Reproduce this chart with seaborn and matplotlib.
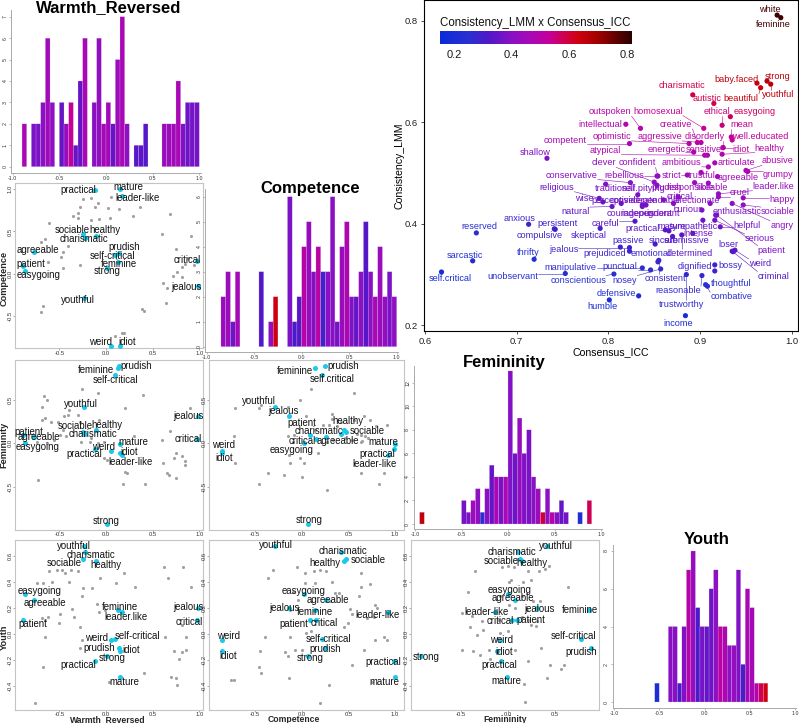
import numpy as np
import pandas as pd
import matplotlib
matplotlib.use("Agg")
import matplotlib.pyplot as plt
import seaborn as sns
from matplotlib.colors import LinearSegmentedColormap, Normalize
from matplotlib.cm import ScalarMappable

# ---------------- DATA ----------------
HL_NAMES = ['practical', 'mature', 'leader-like', 'sociable', 'healthy', 'charismatic', 'agreeable',
            'patient', 'easygoing', 'prudish', 'self-critical', 'feminine', 'strong', 'critical',
            'jealous', 'youthful', 'weird', 'idiot']
HL_WARMTH = [-0.12, 0.155, 0.17, -0.25, -0.105, -0.225, -0.775, -0.885, -0.87, 0.14, 0.10, 0.125,
             0.015, 0.98, 0.985, -0.235, 0.055, 0.15]
HL_COMPETENCE = [0.99, 1.0, 0.92, 0.47, 0.45, 0.42, 0.26, 0.09, 0.03, 0.25, 0.22, 0.14, 0.07, 0.15,
                 -0.14, -0.29, -0.85, -0.85]
HL_FEMININITY = [-0.07, -0.01, -0.13, 0.13, 0.155, 0.11, 0.075, 0.10, 0.0, 0.88, 0.78, 0.86, -0.92,
                 0.05, 0.31, 0.42, -0.085, -0.11]
HL_YOUTH = [-0.21, -0.33, 0.165, 0.57, 0.555, 0.63, 0.26, 0.11, 0.305, -0.11, -0.04, 0.18, -0.17,
            0.11, 0.20, 0.67, -0.045, -0.13]

GRAY_WC = [(-0.164, 0.900), (0.054, 0.911), (-0.25, 0.880), (-0.089, 0.833), (-0.279, 0.794), (-0.118, 0.785),
           (0.018, 0.773), (0.139, 0.766), (0.364, 0.794), (-0.357, 0.687), (-0.304, 0.715), (-0.296, 0.664),
           (-0.164, 0.636), (-0.075, 0.647), (0.043, 0.655), (0.293, 0.687), (0.686, 0.702), (-0.607, 0.596),
           (-0.654, 0.407), (-0.696, 0.380), (-0.411, 0.333), (-0.457, 0.254), (-0.486, 0.203), (-0.625, 0.135),
           (-0.279, 0.104), (-0.457, 0.064), (0.907, 0.446), (0.604, 0.470), (0.746, 0.293), (0.882, 0.183),
           (0.946, 0.104), (0.846, 0.111), (0.811, 0.077), (0.757, 0.025), (0.721, -0.022), (0.818, -0.034),
           (0.614, -0.113), (0.657, -0.172), (0.639, -0.341), (-0.671, -0.377), (-0.7, -0.448), (0.389, -0.420),
           (0.411, -0.436), (0.096, -0.736), (0.168, -0.704), (0.193, -0.704)]
GRAY_WF = [(-0.26, 0.62), (-0.09, 0.58), (0.40, 0.55), (-0.66, 0.54), (-0.63, 0.50), (-0.69, 0.42), (0.20, 0.41),
           (0.90, 0.41), (-0.40, 0.38), (-0.45, 0.31), (-0.41, 0.32), (-0.30, 0.32), (-0.69, 0.27), (-0.65, 0.29),
           (-0.59, 0.25), (-0.51, 0.25), (-0.08, 0.27), (-0.28, 0.25), (-0.46, 0.15), (-0.49, 0.10), (-0.43, 0.08),
           (-0.16, 0.06), (-0.56, 0.04), (-0.74, 0.02), (-0.63, 0.0), (-0.27, 0.01), (-0.17, 0.01), (-0.09, 0.0),
           (-0.02, 0.02), (0.30, 0.08), (0.60, 0.04), (0.69, 0.14), (0.75, -0.11), (0.81, -0.15), (0.85, -0.20),
           (0.73, -0.17), (0.61, -0.22), (0.20, -0.33), (0.22, -0.34), (0.65, -0.34), (0.68, -0.36), (0.75, -0.40),
           (0.85, -0.25), (-0.73, -0.42), (0.18, -0.46), (0.42, -0.47), (-0.02, -0.17), (0.01, -0.19)]
GRAY_CF = [(0.10, 0.62), (0.56, 0.58), (-0.02, 0.50), (-0.71, 0.41), (-0.46, 0.41), (-0.44, 0.44), (-0.15, 0.42),
           (0.05, 0.31), (0.32, 0.34), (0.56, 0.27), (0.67, 0.31), (0.73, 0.27), (0.80, 0.20), (0.91, 0.21),
           (0.32, 0.28), (0.42, 0.25), (0.38, 0.20), (-0.73, 0.08), (-0.15, 0.08), (-0.08, 0.10), (0.14, 0.15),
           (0.23, 0.21), (0.29, 0.21), (0.59, 0.11), (0.64, 0.10), (0.68, 0.08), (0.71, 0.06), (0.65, 0.03),
           (0.63, 0.01), (0.54, 0.04), (0.46, 0.06), (0.34, 0.04), (0.27, 0.02), (-0.09, 0.01), (-0.14, -0.13),
           (-0.13, -0.23), (-0.02, -0.17), (0.03, -0.23), (0.18, -0.11), (-0.71, -0.23), (-0.36, -0.34),
           (-0.19, -0.36), (0.0, -0.39), (-0.46, -0.46), (0.27, -0.53), (0.64, -0.34), (0.88, -0.34), (0.83, -0.46)]
GRAY_WY = [(-0.61, 0.48), (-0.53, 0.49), (-0.47, 0.49), (-0.44, 0.47), (-0.38, 0.49), (-0.30, 0.48), (-0.06, 0.43),
           (0.19, 0.47), (0.62, 0.51), (0.83, 0.51), (0.66, 0.43), (-0.74, 0.39), (-0.68, 0.39), (-0.58, 0.40),
           (-0.40, 0.40), (0.11, 0.39), (0.31, 0.36), (0.91, 0.36), (-0.25, 0.35), (-0.15, 0.35), (-0.26, 0.29),
           (-0.10, 0.23), (-0.07, 0.17), (-0.36, 0.19), (-0.49, 0.15), (-0.62, 0.13), (-0.69, 0.12), (-0.65, 0.11),
           (-0.01, 0.18), (-0.34, 0.13), (-0.28, 0.05), (-0.50, 0.08), (-0.65, -0.02), (-0.26, -0.05), (-0.28, -0.11),
           (0.81, 0.07), (0.63, -0.02), (0.86, -0.02), (0.73, -0.13), (0.81, -0.14), (0.86, -0.12), (0.78, -0.19),
           (0.41, -0.30), (0.70, -0.33), (0.75, -0.34), (0.76, -0.39), (0.03, -0.37), (-0.68, -0.25), (-0.76, -0.53)]
GRAY_CY = [(-0.31, 0.49), (-0.36, 0.43), (-0.05, 0.51), (0.04, 0.47), (0.13, 0.48), (0.20, 0.49), (0.26, 0.48),
           (0.64, 0.47), (0.04, 0.39), (0.14, 0.39), (0.32, 0.40), (0.36, 0.31), (0.40, 0.31), (0.63, 0.36),
           (0.61, 0.29), (0.73, 0.38), (-0.09, 0.32), (-0.04, 0.26), (0.30, 0.25), (0.52, 0.19), (0.54, 0.15),
           (0.79, 0.22), (0.81, 0.20), (0.70, 0.12), (0.50, 0.08), (0.45, 0.05), (0.77, 0.13), (-0.13, 0.18),
           (0.05, 0.01), (0.10, 0.02), (-0.39, -0.02), (-0.13, -0.02), (-0.07, -0.12), (0.0, -0.12), (-0.45, -0.13),
           (-0.18, -0.14), (-0.15, -0.17), (-0.46, -0.25), (-0.44, -0.30), (-0.14, -0.34), (-0.72, -0.35),
           (-0.76, -0.35), (0.29, -0.39), (0.67, -0.12), (0.54, -0.24), (0.79, -0.05), (0.88, -0.02), (0.91, -0.05),
           (0.75, -0.37), (0.20, -0.53)]
GRAY_FY = [(-0.35, 0.48), (-0.06, 0.51), (0.0, 0.52), (0.07, 0.51), (0.22, 0.48), (0.33, 0.48), (0.40, 0.50),
           (0.44, 0.52), (0.01, 0.40), (0.04, 0.41), (0.16, 0.40), (0.25, 0.41), (-0.42, 0.32), (-0.08, 0.29),
           (0.15, 0.29), (0.27, 0.25), (0.34, 0.25), (0.64, 0.36), (0.01, 0.22), (0.08, 0.20), (0.21, 0.18),
           (-0.48, 0.16), (-0.38, 0.14), (-0.27, 0.10), (-0.09, 0.11), (0.15, 0.13), (0.22, 0.11), (0.25, 0.07),
           (0.30, 0.06), (0.31, 0.10), (-0.26, 0.03), (-0.40, 0.05), (-0.33, -0.01), (-0.08, 0.01), (0.0, 0.02),
           (-0.48, -0.12), (-0.37, -0.13), (-0.20, -0.12), (0.08, -0.12), (0.35, -0.11), (0.22, -0.21),
           (-0.19, -0.19), (-0.29, -0.16), (0.45, -0.24), (0.60, -0.24), (0.57, -0.27), (0.42, -0.34),
           (0.17, -0.38), (0.18, -0.52)]

# histogram bins (left edge), counts and colour value (mean Consistency x Consensus)
WARMTH_BINS = [-0.9, -0.8, -0.75, -0.7, -0.65, -0.6, -0.5, -0.45, -0.4, -0.35, -0.3, -0.25, -0.15, -0.1, -0.05,
               0.0, 0.05, 0.1, 0.15, 0.2, 0.3, 0.35, 0.4, 0.6, 0.65, 0.7, 0.75, 0.8, 0.85, 0.9, 0.95]
WARMTH_COUNTS = [2, 2, 2, 3, 6, 3, 3, 2, 3, 1, 4, 6, 3, 6, 2, 3, 2, 5, 7, 2, 1, 1, 2, 2, 2, 2, 4, 2, 3, 3, 3]
WARMTH_CVAL = [0.47, 0.38, 0.38, 0.40, 0.45, 0.41, 0.35, 0.43, 0.53, 0.35, 0.35, 0.47, 0.40, 0.42, 0.46,
               0.45, 0.35, 0.44, 0.47, 0.41, 0.33, 0.34, 0.33, 0.43, 0.44, 0.45, 0.47, 0.39, 0.36, 0.37, 0.37]
COMP_BINS = [-0.85, -0.8, -0.75, -0.7, -0.45, -0.35, -0.3, -0.15, -0.1, -0.05, 0.0, 0.05, 0.1, 0.15, 0.2, 0.25,
             0.3, 0.35, 0.4, 0.45, 0.5, 0.55, 0.6, 0.65, 0.7, 0.75, 0.8, 0.85, 0.9, 0.95]
COMP_COUNTS = [2, 3, 1, 3, 3, 1, 2, 6, 1, 2, 4, 5, 3, 4, 3, 3, 6, 1, 4, 5, 2, 2, 3, 5, 3, 2, 4, 2, 3, 2]
COMP_CVAL = [0.43, 0.44, 0.36, 0.46, 0.32, 0.41, 0.63, 0.38, 0.31, 0.33, 0.50, 0.43, 0.39, 0.51, 0.29, 0.40,
             0.40, 0.37, 0.43, 0.48, 0.39, 0.35, 0.41, 0.33, 0.40, 0.47, 0.44, 0.42, 0.38, 0.41]
FEM_BINS = [-0.95, -0.5, -0.45, -0.4, -0.35, -0.3, -0.25, -0.2, -0.15, -0.1, -0.05, 0.0, 0.05, 0.1, 0.15, 0.2,
            0.25, 0.3, 0.35, 0.4, 0.45, 0.5, 0.55, 0.6, 0.75, 0.85]
FEM_COUNTS = [1, 2, 1, 2, 3, 1, 3, 5, 4, 4, 4, 13, 6, 9, 6, 8, 4, 3, 1, 3, 1, 1, 2, 1, 1, 2]
FEM_CVAL = [0.65, 0.37, 0.38, 0.45, 0.41, 0.26, 0.40, 0.35, 0.47, 0.37, 0.47, 0.39, 0.36, 0.43, 0.39, 0.38,
            0.40, 0.44, 0.60, 0.41, 0.50, 0.40, 0.35, 0.37, 0.22, 0.58]
YOUTH_BINS = [-0.55, -0.4, -0.35, -0.3, -0.25, -0.2, -0.15, -0.1, -0.05, 0.0, 0.05, 0.1, 0.15, 0.2, 0.25, 0.3,
              0.35, 0.4, 0.45, 0.5, 0.55, 0.6, 0.65]
YOUTH_COUNTS = [1, 4, 4, 1, 4, 7, 8, 5, 4, 4, 6, 7, 4, 4, 3, 3, 7, 2, 6, 5, 1, 1, 1]
YOUTH_CVAL = [0.21, 0.40, 0.40, 0.31, 0.39, 0.50, 0.43, 0.31, 0.37, 0.35, 0.36, 0.41, 0.51, 0.48, 0.41, 0.42,
              0.39, 0.30, 0.47, 0.46, 0.49, 0.58, 0.63]

# big scatter: Consensus_ICC vs Consistency_LMM
BIG_TRAITS = ['white', 'feminine', 'charismatic', 'autistic', 'beautiful', 'baby.faced', 'strong', 'youthful',
              'easygoing', 'ethical', 'homosexual', 'mean', 'creative', 'outspoken', 'intellectual', 'competent',
              'optimistic', 'aggressive', 'disorderly', 'well.educated', 'shallow', 'atypical', 'energetic',
              'sensitive', 'idiot', 'healthy', 'clever', 'confident', 'ambitious', 'articulate', 'abusive',
              'grumpy', 'strict', 'trustful', 'agreeable', 'conservative', 'rebellious', 'religious',
              'traditional', 'self.pitying', 'prudish', 'responsible', 'likeable', 'leader.like', 'cruel',
              'happy', 'wise', 'perceptive', 'considerate', 'dependable', 'affectionate', 'natural',
              'courageous', 'independent', 'ignorant', 'critical', 'curious', 'enthusiastic', 'sociable',
              'helpful', 'angry', 'serious', 'patient', 'loser', 'weird', 'criminal', 'anxious', 'reserved',
              'persistent', 'compulsive', 'careful', 'practical', 'mature', 'sympathetic', 'intense',
              'skeptical', 'passive', 'jealous', 'prejudiced', 'sincere', 'submissive', 'emotional',
              'determined', 'sarcastic', 'thrifty', 'self.critical', 'unobservant', 'manipulative', 'punctual',
              'conscientious', 'nosey', 'consistent', 'dignified', 'bossy', 'reasonable', 'thoughtful',
              'combative', 'defensive', 'humble', 'trustworthy', 'income']
BIG_ICC = [0.984, 0.988, 0.892, 0.915, 0.966, 0.962, 0.973, 0.977, 0.933, 0.924, 0.904, 0.934, 0.897, 0.835,
           0.819, 0.823, 0.888, 0.901, 0.925, 0.935, 0.733, 0.905, 0.893, 0.908, 0.925, 0.924, 0.850, 0.854,
           0.909, 0.916, 0.950, 0.952, 0.886, 0.901, 0.919, 0.824, 0.853, 0.790, 0.797, 0.832, 0.853, 0.894,
           0.909, 0.920, 0.920, 0.947, 0.794, 0.814, 0.837, 0.860, 0.911, 0.804, 0.837, 0.841, 0.871, 0.876,
           0.902, 0.917, 0.947, 0.922, 0.935, 0.916, 0.918, 0.936, 0.938, 0.935, 0.713, 0.656, 0.741, 0.742,
           0.829, 0.862, 0.866, 0.892, 0.903, 0.791, 0.813, 0.823, 0.823, 0.851, 0.870, 0.854, 0.880, 0.652,
           0.719, 0.618, 0.753, 0.837, 0.846, 0.806, 0.857, 0.855, 0.916, 0.916, 0.902, 0.908, 0.906, 0.833,
           0.801, 0.885, 0.884]
BIG_LMM = [0.811, 0.806, 0.654, 0.637, 0.668, 0.677, 0.681, 0.675, 0.611, 0.594, 0.588, 0.571, 0.560, 0.588,
           0.596, 0.558, 0.558, 0.560, 0.550, 0.565, 0.529, 0.535, 0.541, 0.535, 0.550, 0.537, 0.482, 0.494,
           0.512, 0.520, 0.505, 0.503, 0.496, 0.501, 0.493, 0.481, 0.494, 0.450, 0.478, 0.457, 0.476, 0.481,
           0.480, 0.459, 0.453, 0.451, 0.443, 0.440, 0.437, 0.447, 0.440, 0.434, 0.434, 0.437, 0.440, 0.453,
           0.427, 0.417, 0.437, 0.394, 0.440, 0.407, 0.417, 0.345, 0.348, 0.346, 0.399, 0.382, 0.390, 0.389,
           0.405, 0.388, 0.386, 0.381, 0.407, 0.391, 0.354, 0.353, 0.346, 0.360, 0.375, 0.325, 0.378, 0.327,
           0.330, 0.305, 0.302, 0.313, 0.309, 0.301, 0.311, 0.328, 0.319, 0.307, 0.298, 0.277, 0.280, 0.258,
           0.250, 0.300, 0.219]

# ---------------- LAYOUT (label placement) ----------------
BIG_LABEL_XY = [(0.976, 0.823), (0.980, 0.792), (0.880, 0.672), (0.908, 0.647), (0.945, 0.647), (0.940, 0.685),
                (0.985, 0.691), (0.985, 0.654), (0.959, 0.622), (0.918, 0.621), (0.854, 0.622), (0.946, 0.596),
                (0.874, 0.596), (0.802, 0.621), (0.791, 0.596), (0.753, 0.565), (0.804, 0.572), (0.856, 0.572),
                (0.905, 0.572), (0.965, 0.572), (0.720, 0.540), (0.797, 0.545), (0.863, 0.547), (0.904, 0.547),
                (0.945, 0.547), (0.976, 0.549), (0.795, 0.520), (0.831, 0.520), (0.880, 0.521), (0.940, 0.521),
                (0.985, 0.524), (0.985, 0.498), (0.869, 0.496), (0.902, 0.496), (0.941, 0.491), (0.760, 0.496),
                (0.817, 0.496), (0.744, 0.472), (0.807, 0.470), (0.838, 0.470), (0.864, 0.472), (0.889, 0.472),
                (0.913, 0.472), (0.980, 0.474), (0.943, 0.461), (0.989, 0.448), (0.774, 0.450), (0.805, 0.445),
                (0.827, 0.445), (0.853, 0.445), (0.896, 0.445), (0.764, 0.424), (0.824, 0.420), (0.842, 0.420),
                (0.860, 0.420), (0.878, 0.453), (0.887, 0.428), (0.940, 0.424), (0.985, 0.424), (0.951, 0.397),
                (0.989, 0.397), (0.965, 0.371), (0.978, 0.348), (0.931, 0.360), (0.965, 0.322), (0.980, 0.297),
                (0.703, 0.411), (0.659, 0.394), (0.744, 0.401), (0.725, 0.376), (0.797, 0.401), (0.837, 0.391),
                (0.869, 0.394), (0.893, 0.394), (0.898, 0.381), (0.778, 0.376), (0.821, 0.367), (0.751, 0.350),
                (0.796, 0.342), (0.860, 0.368), (0.885, 0.368), (0.846, 0.342), (0.889, 0.342), (0.644, 0.338),
                (0.713, 0.343), (0.627, 0.292), (0.696, 0.297), (0.759, 0.314), (0.813, 0.315), (0.767, 0.289),
                (0.818, 0.289), (0.862, 0.292), (0.894, 0.315), (0.933, 0.317), (0.876, 0.268), (0.934, 0.282),
                (0.934, 0.256), (0.809, 0.263), (0.794, 0.238), (0.880, 0.240), (0.876, 0.204)]

OFFSETS = {
    ('W', 'C'): {'practical': (-16.7, 0), 'mature': (7.7, 1.7), 'leader-like': (15.7, -1.7), 'sociable': (-10, 3.7),
                 'healthy': (8.3, 5.3), 'charismatic': (-1, -0.7), 'agreeable': (4.3, 1.7), 'patient': (7.3, 1.7),
                 'easygoing': (13.3, -4), 'prudish': (5, 5.7), 'self-critical': (-3.3, -0.7), 'feminine': (1, -1.7),
                 'strong': (0, -3.3), 'critical': (-9.7, 1), 'jealous': (-11.7, -1), 'youthful': (-5.7, -1.7),
                 'weird': (-11, 4), 'idiot': (7.3, 4)},
    ('W', 'F'): {'feminine': (-21.3, -1.7), 'prudish': (16.7, 0.3), 'self-critical': (0, -4.3), 'youthful': (-2.7, 2.7),
                 'jealous': (-9, 0), 'healthy': (10.3, 4.3), 'sociable': (-7.7, 6), 'charismatic': (7.7, -0.3),
                 'patient': (5.7, 3), 'agreeable': (5, 0), 'easygoing': (13, -4), 'critical': (-9, 0),
                 'mature': (12.7, 2), 'weird': (-7.7, 3.3), 'practical': (-10.3, -5), 'idiot': (9, 0.7),
                 'leader-like': (8.3, -7.3), 'strong': (-1.3, 2.7)},
    ('W', 'Y'): {'youthful': (-9.7, 0.7), 'charismatic': (6, -3), 'sociable': (-18.7, -4), 'healthy': (10, -4),
                 'easygoing': (15, 3.3), 'agreeable': (11.7, -3.3), 'patient': (9, -4.3), 'feminine': (2, 3.3),
                 'leader-like': (4, -5), 'jealous': (-9, 1), 'critical': (-8.3, -2.7), 'weird': (-14.3, 2),
                 'self-critical': (21.7, 2.7), 'prudish': (-20, 0), 'idiot': (11.7, 0.7), 'strong': (5, -1.7),
                 'practical': (-16, -4), 'mature': (4, -4.7)},
    ('C', 'F'): {'feminine': (-20, -2.3), 'prudish': (18, 0.3), 'self-critical': (10, -3.3), 'youthful': (-15.7, 6),
                 'jealous': (-5, 5), 'patient': (-8.3, 11.7), 'healthy': (4.3, 9), 'charismatic': (-22.3, 2.3),
                 'sociable': (21.3, 0.7), 'critical': (-13.3, -2), 'agreeable': (11.7, -4.3),
                 'easygoing': (-13.3, -6.7), 'weird': (0.7, 6), 'idiot': (1.7, -5.3), 'mature': (-12, 2.7),
                 'practical': (-17.3, -4.7), 'leader-like': (-12.7, -9.7), 'strong': (0.7, 3.3)},
    ('C', 'Y'): {'youthful': (1.7, 1), 'charismatic': (2.3, 1), 'healthy': (-18.3, -2), 'sociable': (22.7, -0.7),
                 'easygoing': (-1, 3), 'agreeable': (1.7, -0.3), 'jealous': (-4.3, -0.3), 'feminine': (0, -1.7),
                 'patient': (-16.7, -4), 'critical': (9, -3.3), 'leader-like': (-10.3, -2.7), 'weird': (6, 3.7),
                 'self-critical': (6, 0), 'idiot': (6, -5), 'prudish': (0, -1), 'strong': (1.7, -2.3),
                 'practical': (-11, -1), 'mature': (-10.7, -4.7)},
    ('F', 'Y'): {'youthful': (9, 0.7), 'charismatic': (-5.7, 0), 'sociable': (-18.3, -1.7), 'healthy': (10, -2),
                 'easygoing': (2.3, 4.3), 'agreeable': (-1.7, 1.7), 'leader-like': (-9.3, 0.7), 'jealous': (2.7, -0.7),
                 'feminine': (-9, 0), 'critical': (-11.7, -1.3), 'patient': (13.7, -0.7), 'weird': (1.7, 0),
                 'self-critical': (-7.7, 3.3), 'idiot': (6.7, -1), 'prudish': (-9.3, -3.3), 'strong': (5, -1.3),
                 'practical': (-2, -4), 'mature': (0, -4)},
}
RENAME = {('W', 'Y'): {'leader-like': 'leader.like'}, ('C', 'F'): {'self-critical': 'self.critical'}}

# ---------------- STYLE ----------------
sns.set_theme(style="white")
plt.rcParams["font.family"] = ["Liberation Sans", "DejaVu Sans"]

W, H = 799, 723
fig = plt.figure(figsize=(W / 100, H / 100), dpi=100)

CMAP = LinearSegmentedColormap.from_list(
    "icc", [(0.0, "#0a2ad8"), (0.148, "#2a30d0"), (0.253, "#5018c8"), (0.373, "#8a10c4"),
            (0.478, "#aa08b4"), (0.568, "#c4009a"), (0.643, "#d00050"), (0.718, "#d00010"),
            (0.823, "#a00000"), (1.0, "#2a0000")])
NORM = Normalize(0.151, 0.818)


def rect_px(l, t, r, b):
    return fig.add_axes([l / W, 1 - b / H, (r - l) / W, (b - t) / H])


def axes_from_map(xv, xp, yv, yp, xlim, ylim):
    sx = (xp[1] - xp[0]) / (xv[1] - xv[0])
    sy = (yp[1] - yp[0]) / (yv[1] - yv[0])
    l = xp[0] + (xlim[0] - xv[0]) * sx
    r = xp[0] + (xlim[1] - xv[0]) * sx
    b = yp[0] + (ylim[0] - yv[0]) * sy
    t = yp[0] + (ylim[1] - yv[0]) * sy
    ax = rect_px(l, t, r, b)
    ax.set_xlim(xlim)
    ax.set_ylim(ylim)
    return ax


def ftext(x, y, s, **kw):
    return fig.text(x / W, 1 - y / H, s, **kw)


VARS = {'W': HL_WARMTH, 'C': HL_COMPETENCE, 'F': HL_FEMININITY, 'Y': HL_YOUTH}
XCOL = {'W': (15, 203.3, (-0.975, 1.043), [-0.5, 0.0, 0.5, 1.0]),
        'C': (209, 404, (-0.993, 1.096), [-0.5, 0.0, 0.5, 1.0]),
        'F': (411, 599, (-1.025, 0.968), [-0.5, 0.0, 0.5])}
YROW = {'C': (183.3, 348.3, (-0.881, 1.069), [-0.5, 0.0, 0.5, 1.0]),
        'F': (360, 530, (-0.992, 0.954), [-0.5, 0.0, 0.5]),
        'Y': (540, 710, (-0.582, 0.719), [-0.4, -0.2, 0.0, 0.2, 0.4, 0.6])}
GRAYS = {('W', 'C'): GRAY_WC, ('W', 'F'): GRAY_WF, ('C', 'F'): GRAY_CF,
         ('W', 'Y'): GRAY_WY, ('C', 'Y'): GRAY_CY, ('F', 'Y'): GRAY_FY}


def pair_panel(xk, yk):
    l, r, xlim, xt = XCOL[xk]
    t, b, ylim, yt = YROW[yk]
    ax = rect_px(l, t, r, b)
    g = pd.DataFrame(GRAYS[(xk, yk)], columns=["x", "y"])
    sns.scatterplot(data=g, x="x", y="y", ax=ax, color="#a0a0a0", s=5, linewidth=0, legend=False, zorder=2)
    hl = pd.DataFrame({"x": VARS[xk], "y": VARS[yk]})
    sns.scatterplot(data=hl, x="x", y="y", ax=ax, color="#19c8ea", s=13, linewidth=0, legend=False, zorder=3)
    offs = OFFSETS[(xk, yk)]
    ren = RENAME.get((xk, yk), {})
    for name, x, y in zip(HL_NAMES, VARS[xk], VARS[yk]):
        dx, dy = offs[name]
        ax.annotate(ren.get(name, name), (x, y), xytext=(dx, dy), textcoords="offset pixels",
                    ha="center", va="center", fontsize=6.9, color="#111111", zorder=4)
    ax.set_xlim(xlim)
    ax.set_ylim(ylim)
    ax.set_xticks(xt)
    ax.set_yticks(yt)
    ax.set_xticklabels([f"{v:.1f}" for v in xt])
    ax.set_yticklabels([f"{v:.1f}" for v in yt])
    ax.tick_params(axis="both", labelsize=4.2, length=1.2, width=0.4, colors="#666666",
                   labelcolor="#333333", pad=0.6, bottom=True, left=True)
    plt.setp(ax.get_yticklabels(), rotation=90, va="center")
    for s in ax.spines.values():
        s.set_visible(True)
        s.set_color("#c4c4c4")
        s.set_linewidth(0.8)
    ax.set_xlabel("")
    ax.set_ylabel("")
    return ax


for xk, yk in [('W', 'C'), ('W', 'F'), ('C', 'F'), ('W', 'Y'), ('C', 'Y'), ('F', 'Y')]:
    pair_panel(xk, yk)


def diag_hist(xp, yp, ymax_val, ylim, yticks, bins, counts, cvals):
    ax = axes_from_map((-1.0, 1.0), xp, (0.0, ymax_val), yp, (-1.015, 1.015), ylim)
    edges = [round(-1.0 + 0.05 * i, 3) for i in range(41)]
    vals = np.repeat(np.array(bins) + 0.025, counts)
    sns.histplot(x=vals, bins=edges, ax=ax, stat="count", alpha=1,
                 edgecolor="#e2d4f6", linewidth=0.15)
    lut = {round(bv, 2): cv for bv, cv in zip(bins, cvals)}
    for p in ax.patches:
        key = round(p.get_x(), 2)
        if p.get_height() > 0 and key in lut:
            p.set_facecolor(CMAP(NORM(lut[key])))
            p.set_snap(False)
        else:
            p.set_visible(False)
    ax.set_xlim(-1.015, 1.015)
    ax.set_ylim(ylim)
    ax.set_xticks([-1.0, -0.5, 0.0, 0.5, 1.0])
    ax.set_xticklabels(["-1.0", "-0.5", "0.0", "0.5", "1.0"])
    ax.set_yticks(yticks)
    ax.set_yticklabels([str(v) for v in yticks])
    ax.tick_params(axis="both", labelsize=3.8, length=1.5, width=0.4, colors="#888888",
                   labelcolor="#333333", pad=1, bottom=True, left=True)
    plt.setp(ax.get_yticklabels(), rotation=90, va="center")
    ax.spines["top"].set_visible(False)
    ax.spines["right"].set_visible(False)
    for k in ("left", "bottom"):
        ax.spines[k].set_color("#aaaaaa")
        ax.spines[k].set_linewidth(0.7)
    ax.patch.set_alpha(0)
    ax.set_xlabel("")
    ax.set_ylabel("")
    return ax


diag_hist((12.7, 199.3), (166.7, 16.7), 7, (-0.28, 7.3), list(range(0, 8)),
          WARMTH_BINS, WARMTH_COUNTS, WARMTH_CVAL)
diag_hist((206.7, 396.7), (346.7, 196.7), 6, (-0.2, 6.3), list(range(0, 7)),
          COMP_BINS, COMP_COUNTS, COMP_CVAL)
diag_hist((415, 601), (524, 382.7), 12, (-0.4, 13.4), [0, 2, 4, 6, 8, 10, 12],
          FEM_BINS, FEM_COUNTS, FEM_CVAL)
diag_hist((614, 795), (702, 551), 8, (-0.3, 8.3), [0, 2, 4, 6, 8],
          YOUTH_BINS, YOUTH_COUNTS, YOUTH_CVAL)

# titles & axis names
for txt, x, y in [("Warmth_Reversed", 108.5, 8), ("Competence", 310, 189),
                  ("Femininity", 504.5, 362), ("Youth", 707, 540)]:
    ftext(x, y, txt, ha="center", va="center", fontsize=12, fontweight="bold", color="black")
for txt, y in [("Competence", 278), ("Femininity", 445), ("Youth", 637)]:
    ftext(4.3, y, txt, ha="center", va="center", rotation=90, fontsize=6.6, fontweight="bold")
for txt, x in [("Warmth_Reversed", 108), ("Competence", 294), ("Femininity", 505)]:
    ftext(x, 719.6, txt, ha="center", va="center", fontsize=6.2, fontweight="bold")

# ---------------- BIG SCATTER ----------------
df = pd.DataFrame({"trait": BIG_TRAITS, "icc": BIG_ICC, "lmm": BIG_LMM})
df["prod"] = df["icc"] * df["lmm"]

axb = axes_from_map((0.6, 1.0), (425, 791.8), (0.8, 0.2), (20.7, 325.3), (0.5985, 1.0066), (0.1886, 0.8398))
sns.scatterplot(data=df, x="icc", y="lmm", hue="prod", palette=CMAP, hue_norm=NORM, s=14,
                linewidth=0, legend=False, ax=axb, zorder=3)
axb.set_xlim(0.5985, 1.0066)
axb.set_ylim(0.1886, 0.8398)
axb.set_xticks([0.6, 0.7, 0.8, 0.9, 1.0])
axb.set_xticklabels(["0.6", "0.7", "0.8", "0.9", "1.0"])
axb.set_yticks([0.2, 0.4, 0.6, 0.8])
axb.set_yticklabels(["0.2", "0.4", "0.6", "0.8"])
axb.tick_params(axis="both", labelsize=6.8, length=2.5, width=0.6, colors="#333333",
                labelcolor="#222222", pad=1.5, bottom=True, left=True)
for s in axb.spines.values():
    s.set_visible(True)
    s.set_color("black")
    s.set_linewidth(0.8)
axb.set_xlabel("Consensus_ICC", fontsize=7.6, labelpad=1, color="black")
axb.set_ylabel("Consistency_LMM", fontsize=7.6, labelpad=0.5, color="black")

texts = []
for (name, x, y, pv), (lx, ly) in zip(df[["trait", "icc", "lmm", "prod"]].itertuples(index=False), BIG_LABEL_XY):
    c = CMAP(NORM(pv))
    t = axb.text(lx, ly, name, ha="center", va="center", fontsize=6.6, color=c, zorder=4)
    texts.append((t, x, y, c))

# colorbar legend
cax = rect_px(440, 31, 632, 44)
sm = ScalarMappable(norm=NORM, cmap=CMAP)
cb = fig.colorbar(sm, cax=cax, orientation="horizontal")
cb.outline.set_visible(False)
cb.set_ticks([0.2, 0.4, 0.6, 0.8])
cb.set_ticklabels(["0.2", "0.4", "0.6", "0.8"])
cax.tick_params(axis="x", direction="in", colors="white", length=2.6, width=0.8, labelsize=8,
                labelcolor="#1a1a1a", pad=4, bottom=True, top=True)
ftext(440, 22.7, "Consistency_LMM x Consensus_ICC", ha="left", va="center", fontsize=8.3, color="#111111")

# repel-style segments from points to labels
fig.canvas.draw()
rend = fig.canvas.get_renderer()
inv = axb.transData.inverted()
for t, x, y, c in texts:
    bb = t.get_window_extent(rend)
    px, py = axb.transData.transform((x, y))
    nx = min(max(px, bb.x0), bb.x1)
    ny = min(max(py, bb.y0), bb.y1)
    if np.hypot(nx - px, ny - py) > 5:
        (dx0, dy0), (dx1, dy1) = inv.transform([(px, py), (nx, ny)])
        axb.plot([dx0, dx1], [dy0, dy1], color=c, lw=0.4, zorder=2)

fig.savefig("out.png", dpi=100)
